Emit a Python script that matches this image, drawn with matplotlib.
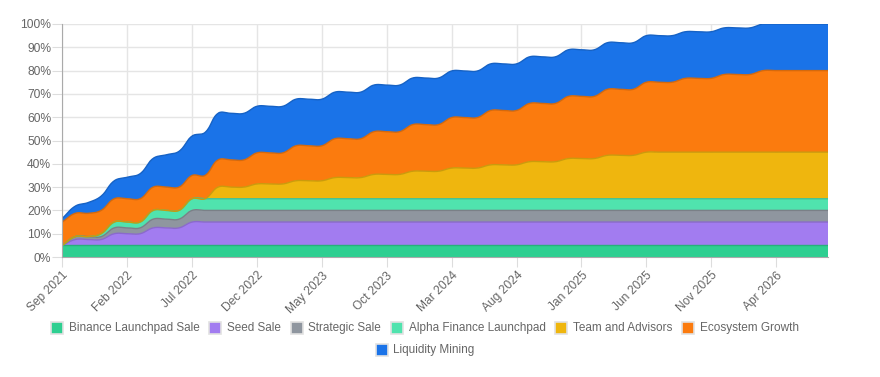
import numpy as np
import matplotlib
matplotlib.use('Agg')
import matplotlib.pyplot as plt
from matplotlib.patches import Rectangle
from matplotlib.colors import to_rgb

# monthly unlocked supply (% of total), Sep 2021 .. Aug 2026
binance_sale = [
    5, 5, 5, 5, 5, 5, 5, 5, 5, 5, 5, 5,
    5, 5, 5, 5, 5, 5, 5, 5, 5, 5, 5, 5,
    5, 5, 5, 5, 5, 5, 5, 5, 5, 5, 5, 5,
    5, 5, 5, 5, 5, 5, 5, 5, 5, 5, 5, 5,
    5, 5, 5, 5, 5, 5, 5, 5, 5, 5, 5, 5]
seed_sale = [
    0, 2.5, 2.5, 2.5, 5, 5, 5, 7.5, 7.5, 7.5, 10, 10,
    10, 10, 10, 10, 10, 10, 10, 10, 10, 10, 10, 10,
    10, 10, 10, 10, 10, 10, 10, 10, 10, 10, 10, 10,
    10, 10, 10, 10, 10, 10, 10, 10, 10, 10, 10, 10,
    10, 10, 10, 10, 10, 10, 10, 10, 10, 10, 10, 10]
strategic_sale = [
    0, 1.25, 1.25, 1.25, 2.5, 2.5, 2.5, 3.75, 3.75, 3.75, 5, 5,
    5, 5, 5, 5, 5, 5, 5, 5, 5, 5, 5, 5,
    5, 5, 5, 5, 5, 5, 5, 5, 5, 5, 5, 5,
    5, 5, 5, 5, 5, 5, 5, 5, 5, 5, 5, 5,
    5, 5, 5, 5, 5, 5, 5, 5, 5, 5, 5, 5]
alpha_launchpad = [
    0, 0, 0, 1.25, 2.5, 2.5, 2.5, 3.75, 3.75, 3.75, 5, 5,
    5, 5, 5, 5, 5, 5, 5, 5, 5, 5, 5, 5,
    5, 5, 5, 5, 5, 5, 5, 5, 5, 5, 5, 5,
    5, 5, 5, 5, 5, 5, 5, 5, 5, 5, 5, 5,
    5, 5, 5, 5, 5, 5, 5, 5, 5, 5, 5, 5]
team_advisors = [
    0, 0, 0, 0, 0, 0, 0, 0, 0, 0, 0, 0,
    5, 5, 5, 6.36, 6.36, 6.36, 7.73, 7.73, 7.73, 9.09, 9.09, 9.09,
    10.45, 10.45, 10.45, 11.82, 11.82, 11.82, 13.18, 13.18, 13.18, 14.55, 14.55, 14.55,
    15.91, 15.91, 15.91, 17.27, 17.27, 17.27, 18.64, 18.64, 18.64, 20, 20, 20,
    20, 20, 20, 20, 20, 20, 20, 20, 20, 20, 20, 20]
ecosystem_growth = [
    10, 10, 10, 10, 10, 10, 10, 10, 10, 10, 10, 10,
    11.67, 11.67, 11.67, 13.33, 13.33, 13.33, 15, 15, 15, 16.67, 16.67, 16.67,
    18.33, 18.33, 18.33, 20, 20, 20, 21.67, 21.67, 21.67, 23.33, 23.33, 23.33,
    25, 25, 25, 26.67, 26.67, 26.67, 28.33, 28.33, 28.33, 30, 30, 30,
    31.67, 31.67, 31.67, 33.33, 33.33, 33.33, 35, 35, 35, 35, 35, 35]
liquidity_mining = [
    1.54, 3.08, 4.62, 6.15, 7.69, 9.23, 10.77, 12.31, 13.85, 15.38, 16.92, 18.46,
    20, 20, 20, 20, 20, 20, 20, 20, 20, 20, 20, 20,
    20, 20, 20, 20, 20, 20, 20, 20, 20, 20, 20, 20,
    20, 20, 20, 20, 20, 20, 20, 20, 20, 20, 20, 20,
    20, 20, 20, 20, 20, 20, 20, 20, 20, 20, 20, 20]

series_names = ['Binance Launchpad Sale', 'Seed Sale', 'Strategic Sale',
                'Alpha Finance Launchpad', 'Team and Advisors', 'Ecosystem Growth',
                'Liquidity Mining']
series_values = [binance_sale, seed_sale, strategic_sale, alpha_launchpad,
                 team_advisors, ecosystem_growth, liquidity_mining]
series_colors = ['#2ecf91', '#a27cf0', '#8f969f', '#50e3ae', '#efb60e', '#fb7b0e', '#1a73e8']

tick_pos = [0, 5, 10, 15, 20, 25, 30, 35, 40, 45, 50, 55]
tick_labels = ['Sep 2021', 'Feb 2022', 'Jul 2022', 'Dec 2022', 'May 2023', 'Oct 2023',
               'Mar 2024', 'Aug 2024', 'Jan 2025', 'Jun 2025', 'Nov 2025', 'Apr 2026']

W, H = 880, 377
PX_M = 12.97   # px per month
PX_P = 2.33    # px per percent
FONT = 'Liberation Sans'
FS = 8.64      # 12px
FS_LEG = 8.5


def spline(ys, tension=0.4, nseg=16):
    # chart.js style bezier smoothing, done in pixel space
    X = np.arange(len(ys)) * PX_M
    Y = np.asarray(ys, float) * PX_P
    n = len(X)
    P = np.column_stack([X, Y])
    cprev = P.copy()
    cnext = P.copy()
    for i in range(n):
        p0 = P[max(i - 1, 0)]
        p1 = P[i]
        p2 = P[min(i + 1, n - 1)]
        d01 = np.hypot(*(p1 - p0))
        d12 = np.hypot(*(p2 - p1))
        tot = d01 + d12
        s01 = d01 / tot if tot else 0
        s12 = d12 / tot if tot else 0
        cprev[i] = p1 - tension * s01 * (p2 - p0)
        cnext[i] = p1 + tension * s12 * (p2 - p0)
    for c in (cprev, cnext):
        c[:, 0] = np.clip(c[:, 0], X[0], X[-1])
        c[:, 1] = np.clip(c[:, 1], 0, 100 * PX_P)
    t = np.linspace(0, 1, nseg)[:, None]
    pts = [P[:1]]
    for i in range(n - 1):
        a, b, c, d = P[i], cnext[i], cprev[i + 1], P[i + 1]
        seg = ((1 - t) ** 3) * a + 3 * ((1 - t) ** 2) * t * b + 3 * (1 - t) * t ** 2 * c + t ** 3 * d
        pts.append(seg[1:])
    pts = np.vstack(pts)
    return pts[:, 0] / PX_M, pts[:, 1] / PX_P


def darker(col, f=0.85):
    r, g, b = to_rgb(col)
    return (r * f, g * f, b * f)


fig = plt.figure(figsize=(W / 100, H / 100), dpi=100)
ax = fig.add_axes([62.3 / W, 1 - 257 / H, (828 - 62.3) / W, (257 - 24) / H])

cum = np.cumsum(np.array(series_values, float), axis=0)
curves = [spline(row) for row in cum]

n = len(binance_sale)
for i, (cx, cy) in enumerate(curves):
    if i == 0:
        lx, ly = np.array([0, n - 1]), np.array([0, 0])
    else:
        lx, ly = curves[i - 1]
    ax.fill(np.r_[cx, lx[::-1]], np.r_[cy, ly[::-1]], color=series_colors[i], lw=0, zorder=2)
for i, (cx, cy) in enumerate(curves):
    ax.plot(cx, cy, color=darker(series_colors[i]), lw=1, zorder=3)

ax.set_xlim(0, n - 1)
ax.set_ylim(0, 100)
ax.set_xticks(tick_pos)
ax.set_xticklabels(tick_labels, rotation=45, ha='right', va='top', rotation_mode='anchor',
                   fontsize=FS, family=FONT, color='#666666')
ax.set_yticks(range(0, 101, 10))
ax.set_yticklabels([f'{v}%' for v in range(0, 101, 10)], fontsize=FS, family=FONT, color='#666666')
ax.tick_params(axis='x', length=7, color='#dddddd', pad=2)
ax.tick_params(axis='y', length=7, color='#dddddd', pad=1)
ax.grid(True, color='#e5e5e5', lw=1)
ax.set_axisbelow(True)
for s in ('top', 'right'):
    ax.spines[s].set_visible(False)
for s in ('left', 'bottom'):
    ax.spines[s].set_color('#aaaaaa')
    ax.spines[s].set_zorder(4)

# legend, chart.js style: centered rows
fig.canvas.draw()
rend = fig.canvas.get_renderer()
rows = [(list(range(6)), 328), ([6], 350)]
for idx, ypx in rows:
    widths = []
    for k in idx:
        tt = fig.text(0, 0, series_names[k], fontsize=FS_LEG, family=FONT)
        widths.append(tt.get_window_extent(rend).width)
        tt.remove()
    total = sum(17.5 + w for w in widths) + 10 * (len(idx) - 1)
    x = 425 - total / 2
    for k, w in zip(idx, widths):
        fig.add_artist(Rectangle((x / W, 1 - (ypx + 6) / H), 12 / W, 12 / H, transform=fig.transFigure,
                                 fc=series_colors[k], ec='#e2e2e2', lw=1.2))
        fig.text((x + 17.5) / W, 1 - ypx / H, series_names[k], va='center', ha='left',
                 fontsize=FS_LEG, family=FONT, color='#666666')
        x += 17.5 + w + 10

fig.savefig('out.png', dpi=100)
